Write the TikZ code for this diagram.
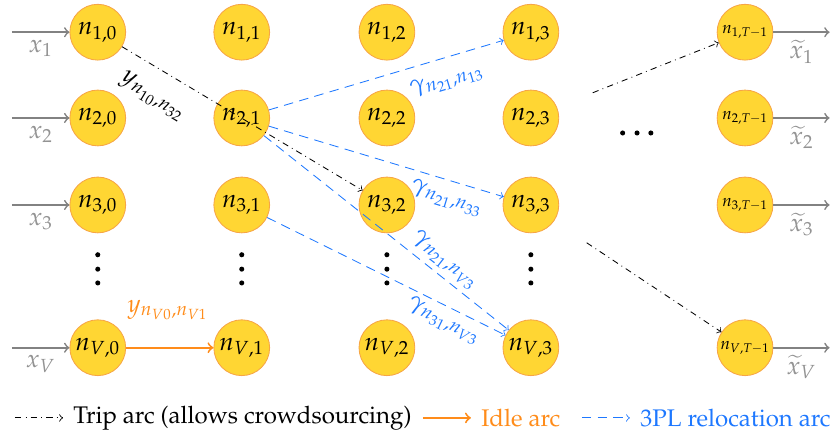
\documentclass[tikz,border=0pt]{standalone}
\usepackage[T1]{fontenc}
\usepackage{mathpazo}
\usetikzlibrary{positioning}

\definecolor{nodeyellow}{RGB}{255,214,51}
\definecolor{nodeedge}{RGB}{247,165,70}
\definecolor{idleorange}{RGB}{255,140,26}
\definecolor{plblue}{RGB}{30,120,255}
\definecolor{flowgray}{RGB}{130,130,130}

\tikzset{
  vertex/.style={circle, fill=nodeyellow, draw=nodeedge, minimum size=0.93cm, inner sep=0pt},
  triparc/.style={->, dash dot},
  idlearc/.style={->, color=idleorange, line width=0.9pt},
  relocarc/.style={->, draw=plblue, dash pattern=on 4.5pt off 3pt},
  flowarc/.style={->, draw=flowgray, thick},
}

\begin{document}
\begin{tikzpicture}[>=to, font=\large]
\useasboundingbox (0,0) rectangle (13.92,7.267);

% time-expanded nodes
\foreach \c/\x in {0/1.63, 1/4.03, 2/6.45, 3/8.85}
{
    \foreach \r/\y in {1/6.73, 2/5.30, 3/3.85, V/1.47}
    {
        \node[vertex] (n\r\c) at (\x,\y) {$n_{\r,\c}$};
    }
    % vertical dots
    \foreach \y in {3.02, 2.78, 2.55}
        \fill (\x,\y) circle (1.2pt);
}
\foreach \r/\y in {1/6.73, 2/5.30, 3/3.85, V/1.47}
{
    \node[vertex, font=\footnotesize] (n\r t) at (12.42,\y) {$n_{\r,T-1}$};
    \coordinate (in\r) at (0.2,\y);
    \coordinate (out\r) at (13.83,\y);
    \draw[flowarc] (in\r) -- (n\r0) node[midway, below, text=gray!85] {$x_{\r}$};
    \draw[flowarc] (n\r t) -- (out\r) node[midway, below, text=gray!85] {$\widetilde{x}_{\r}$};
}
% horizontal dots
\foreach \x in {10.38, 10.62, 10.85}
    \fill (\x,5.05) circle (1.2pt);

% arcs
\coordinate (t1) at (9.88,5.72);
\coordinate (t2) at (9.78,3.22);
\draw[triparc] (n10) -- (n32);
\draw[triparc] (t1) -- (n1t);
\draw[triparc] (t2) -- (nVt);
\draw[idlearc] (nV0.east) -- (nV1.west);
\draw[relocarc] (n21) -- (n13);
\draw[relocarc] (n21) -- (n33);
\draw[relocarc] (n21) -- (nV3);
\draw[relocarc] (n31) -- (nV3);

\node[rotate=-31] (ytrip) at (2.55,5.66) {$y_{n_{10},n_{32}}$};
\node[idleorange] (yidle) at (2.80,2.10) {$y_{n_{V0},n_{V1}}$};
\node[plblue, rotate=17] (g1) at (7.45,5.93) {$\gamma_{n_{21},n_{13}}$};
\node[plblue, rotate=-17] (g2) at (7.45,3.97) {$\gamma_{n_{21},n_{33}}$};
\node[plblue, rotate=-38] (g3) at (7.42,2.93) {$\gamma_{n_{21},n_{V3}}$};
\node[plblue, rotate=-26] (g4) at (7.40,1.92) {$\gamma_{n_{31},n_{V3}}$};

% legend
\begin{scope}[font=\fontsize{11.4}{13}\selectfont]
\coordinate (lga) at (0.25,0.30);
\coordinate[right=0.8cm of lga] (lgb);
\draw[triparc] (lga) -- (lgb);
\node[right=0.05cm of lgb] (lgtrip) {Trip arc (allows crowdsourcing)};
\coordinate (lgc) at (7.05,0.30);
\coordinate[right=0.8cm of lgc] (lgd);
\draw[idlearc] (lgc) -- (lgd);
\node[idleorange, right=0.05cm of lgd] (lgidle) {Idle arc};
\coordinate (lge) at (9.70,0.30);
\coordinate[right=0.8cm of lge] (lgf);
\draw[relocarc] (lge) -- (lgf);
\node[plblue, right=0.05cm of lgf] (lgreloc) {3PL relocation arc};
\end{scope}
\end{tikzpicture}
\end{document}
